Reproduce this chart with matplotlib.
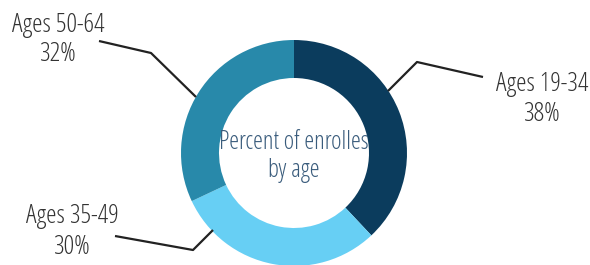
import matplotlib
matplotlib.use("Agg")
import matplotlib.pyplot as plt
from matplotlib.font_manager import FontProperties

labels = ["Ages 19-34", "Ages 35-49", "Ages 50-64"]
values = [38, 30, 32]
colors = ["#0b3c5d", "#67cff4", "#2889aa"]
center_lines = ["Percent of enrolles", "by age"]

W, H = 590, 265
fig = plt.figure(figsize=(W / 100, H / 100), dpi=100)
ax = fig.add_axes([0, 0, 1, 1])

fp_lab = FontProperties(family="Open Sans", stretch="condensed", weight=300, size=19)
fp_cen = FontProperties(family="Open Sans", stretch="condensed", weight=300, size=18)

cx, cy, R = 294, H - 153, 113
ax.pie(values, colors=colors, startangle=90, counterclock=False, center=(cx, cy),
       radius=R, wedgeprops=dict(width=38, linewidth=0), frame=True)
ax.set_xlim(0, W)
ax.set_ylim(0, H)
ax.set_aspect("equal")
ax.axis("off")

for line, base in zip(center_lines, [149, 177]):
    ax.text(cx, H - base, line, ha="center", va="baseline", fontproperties=fp_cen,
            color="#3a5c7c")

# leader lines (pixel layout)
leaders = [
    [(388, 91), (417, 62), (483, 77)],
    [(213, 230), (193, 250), (115, 236)],
    [(196, 97), (151, 53), (99, 41)],
]
label_pos = [(542, 91, 121), (72, 223, 254), (58, 32, 61)]
for lab, v, pts, (lx, b1, b2) in zip(labels, values, leaders, label_pos):
    xs = [p[0] for p in pts]
    ys = [H - p[1] for p in pts]
    ax.plot(xs, ys, color="#222222", lw=1.6, solid_capstyle="butt")
    ax.text(lx, H - b1, lab, ha="center", va="baseline", fontproperties=fp_lab, color="#333333")
    ax.text(lx, H - b2, f"{v}%", ha="center", va="baseline", fontproperties=fp_lab, color="#333333")

fig.savefig("out.png", dpi=100, facecolor="white")
